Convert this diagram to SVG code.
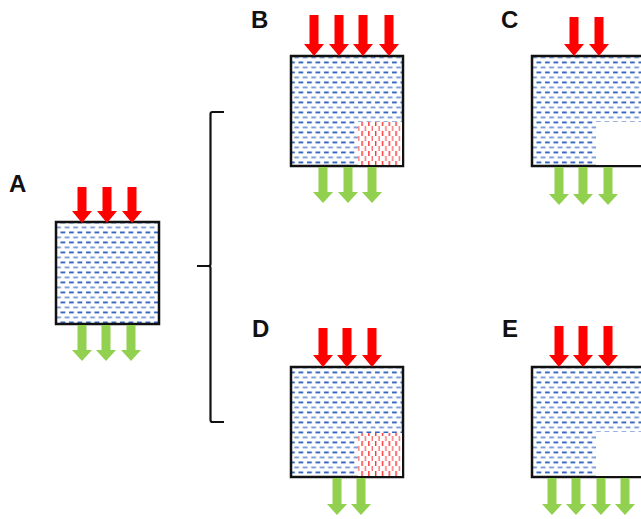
<svg xmlns="http://www.w3.org/2000/svg" width="641" height="519" viewBox="0 0 641 519">
<style>
.lbl{font-family:"Liberation Sans",Arial,sans-serif;font-weight:bold;font-size:24px;fill:#111}
.box{fill:url(#water);stroke:#111;stroke-width:2.5}
.red{fill:#ff0000}
.grn{fill:#92d050}
.hot{fill:url(#heat)}
.void{fill:#fff}
.br{fill:none;stroke:#111;stroke-width:2.2;stroke-linejoin:round}
</style>
<defs>
<pattern id="water" patternUnits="userSpaceOnUse" width="8.5" height="10">
<rect width="8.5" height="10" fill="#fff"/>
<rect x="1" y="1.5" width="4.8" height="1.9" fill="#3566c0"/>
<rect x="5.2" y="6.5" width="4.8" height="1.9" fill="#7d9dd6"/>
<rect x="-3.3" y="6.5" width="4.8" height="1.9" fill="#7d9dd6"/>
</pattern>
<pattern id="heat" patternUnits="userSpaceOnUse" width="6.8" height="10">
<rect width="6.8" height="10" fill="#fff"/>
<rect x="1" y="1" width="1.4" height="5" fill="#ff2a2a"/>
<rect x="4.4" y="6" width="1.4" height="5" fill="#ff6a6a"/>
<rect x="4.4" y="-4" width="1.4" height="5" fill="#ff6a6a"/>
</pattern>
</defs>

<g id="connectors">
<path class="br" d="M224 112 H212.5 Q210.5 112 210.5 114 V264 Q210.5 266 208.5 266 H197 M208.5 266 Q210.5 266 210.5 268 V420 Q210.5 422 212.5 422 H224"/>
</g>

<g id="nodeA">
<text class="lbl" x="9" y="192">A</text>
<rect class="box" x="56" y="222" width="103" height="102"/>
<path class="red" d="M77.5 187h9V211h5.5L82 223L72 211h5.5Z M102.5 187h9V211h5.5L107 223L97 211h5.5Z M127.5 187h9V211h5.5L132 223L122 211h5.5Z"/>
<path class="grn" d="M77.5 325h9V350h5.5L82 361L72 350h5.5Z M101.5 325h9V350h5.5L106 361L96 350h5.5Z M126.5 325h9V350h5.5L131 361L121 350h5.5Z"/>
</g>

<g id="nodeB">
<text class="lbl" x="251" y="28">B</text>
<rect class="box" x="291" y="56" width="112" height="110"/>
<rect class="hot" x="358" y="122" width="44" height="43"/>
<path class="red" d="M309.5 15h9V44h5.5L314 56L304 44h5.5Z M334.5 15h9V44h5.5L339 56L329 44h5.5Z M358.5 15h9V44h5.5L363 56L353 44h5.5Z M384.5 15h9V44h5.5L389 56L379 44h5.5Z"/>
<path class="grn" d="M318.5 167h9V192h5.5L323 203L313 192h5.5Z M343.5 167h9V192h5.5L348 203L338 192h5.5Z M367.5 167h9V192h5.5L372 203L362 192h5.5Z"/>
</g>

<g id="nodeC">
<text class="lbl" x="501" y="28">C</text>
<rect class="box" x="532" y="56" width="112" height="110"/>
<rect class="void" x="596" y="122" width="47" height="43"/>
<path class="red" d="M569.5 17h9V44h5.5L574 56L564 44h5.5Z M594.5 17h9V44h5.5L599 56L589 44h5.5Z"/>
<path class="grn" d="M554.5 167h9V194h5.5L559 205L549 194h5.5Z M578.5 167h9V194h5.5L583 205L573 194h5.5Z M603.5 167h9V194h5.5L608 205L598 194h5.5Z"/>
</g>

<g id="nodeD">
<text class="lbl" x="252" y="337">D</text>
<rect class="box" x="291" y="367" width="112" height="110"/>
<rect class="hot" x="358" y="433" width="44" height="43"/>
<path class="red" d="M318.5 328h9V355h5.5L323 367L313 355h5.5Z M342.5 328h9V355h5.5L347 367L337 355h5.5Z M367.5 328h9V355h5.5L372 367L362 355h5.5Z"/>
<path class="grn" d="M332.5 478h9V504h5.5L337 515L327 504h5.5Z M356.5 478h9V504h5.5L361 515L351 504h5.5Z"/>
</g>

<g id="nodeE">
<text class="lbl" x="502" y="337">E</text>
<rect class="box" x="532" y="367" width="112" height="110"/>
<rect class="void" x="596" y="432" width="47" height="44"/>
<path class="red" d="M554.5 326h9V355h5.5L559 367L549 355h5.5Z M578.5 326h9V355h5.5L583 367L573 355h5.5Z M603.5 326h9V355h5.5L608 367L598 355h5.5Z"/>
<path class="grn" d="M547.5 478h9V504h5.5L552 515L542 504h5.5Z M571.5 478h9V504h5.5L576 515L566 504h5.5Z M596.5 478h9V504h5.5L601 515L591 504h5.5Z M620.5 478h9V504h5.5L625 515L615 504h5.5Z"/>
</g>
</svg>
